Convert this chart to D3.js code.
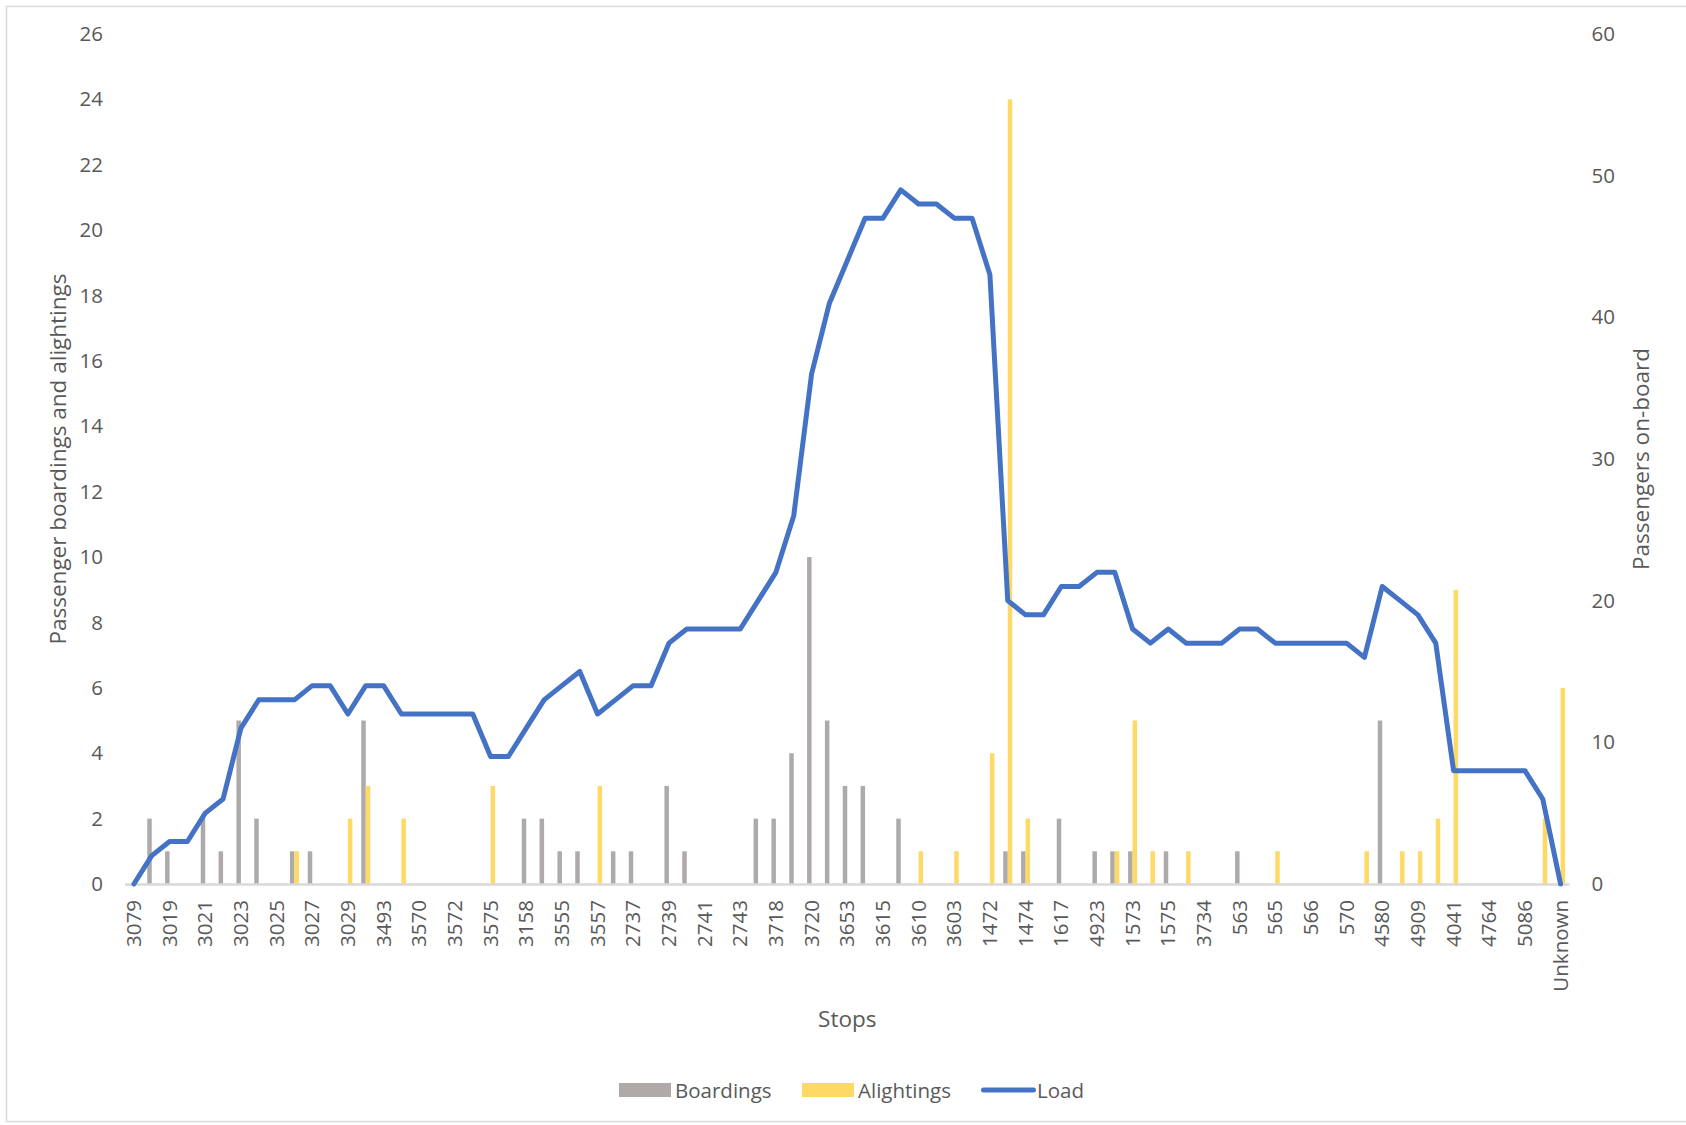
<!DOCTYPE html>
<html>
<head>
<meta charset="utf-8">
<script src="https://cdn.jsdelivr.net/npm/d3@7"></script>
<style>
  html, body { margin: 0; padding: 0; background: #ffffff; }
  svg { display: block; }
  text { font-family: "Open Sans", "Noto Sans", sans-serif; fill: #595959; }
</style>
</head>
<body>
<svg id="chart" width="1686" height="1125"></svg>
<script>
// Stop labels printed on the axis (one label for every second stop along the route)
const stopLabels = [
  "3079", "3019", "3021", "3023", "3025", "3027", "3029", "3493", "3570", "3572",
  "3575", "3158", "3555", "3557", "2737", "2739", "2741", "2743", "3718", "3720",
  "3653", "3615", "3610", "3603", "1472", "1474", "1617", "4923", "1573", "1575",
  "3734", "563", "565", "566", "570", "4580", "4909", "4041", "4764", "5086",
  "Unknown"
];

// Passengers boarding at each of the 81 stops
const boardings = [
  0, 2, 1, 0, 2, 1, 5, 2, 0, 1,
  1, 0, 0, 5, 0, 0, 0, 0, 0, 0,
  0, 0, 2, 2, 1, 1, 0, 1, 1, 0,
  3, 1, 0, 0, 0, 2, 2, 4, 10, 5,
  3, 3, 0, 2, 0, 0, 0, 0, 0, 1,
  1, 0, 2, 0, 1, 1, 1, 0, 1, 0,
  0, 0, 1, 0, 0, 0, 0, 0, 0, 0,
  5, 0, 0, 0, 0, 0, 0, 0, 0, 0,
  0
];

// Passengers alighting at each stop
const alightings = [
  0, 0, 0, 0, 0, 0, 0, 0, 0, 1,
  0, 0, 2, 3, 0, 2, 0, 0, 0, 0,
  3, 0, 0, 0, 0, 0, 3, 0, 0, 0,
  0, 0, 0, 0, 0, 0, 0, 0, 0, 0,
  0, 0, 0, 0, 1, 0, 1, 0, 4, 24,
  2, 0, 0, 0, 0, 1, 5, 1, 0, 1,
  0, 0, 0, 0, 1, 0, 0, 0, 0, 1,
  0, 1, 1, 2, 9, 0, 0, 0, 0, 2,
  6
];

// Passengers on board after each stop
const load = [
  0, 2, 3, 3, 5, 6, 11, 13, 13, 13,
  14, 14, 12, 14, 14, 12, 12, 12, 12, 12,
  9, 9, 11, 13, 14, 15, 12, 13, 14, 14,
  17, 18, 18, 18, 18, 20, 22, 26, 36, 41,
  44, 47, 47, 49, 48, 48, 47, 47, 43, 20,
  19, 19, 21, 21, 22, 22, 18, 17, 18, 17,
  17, 17, 18, 18, 17, 17, 17, 17, 17, 16,
  21, 20, 19, 17, 8, 8, 8, 8, 8, 6,
  0
];

const leftTicks = [0, 2, 4, 6, 8, 10, 12, 14, 16, 18, 20, 22, 24, 26];
const rightTicks = [0, 10, 20, 30, 40, 50, 60];

const seriesNames = ["Boardings", "Alightings"];
const colors = { Boardings: "#AEAAAA", Alightings: "#FFD966", Load: "#4472C4" };

const svg = d3.select("#chart");
const W = 1686, H = 1125;
const plot = { left: 125, right: 1569.5, top: 34, bottom: 884 };

// Chart frame
svg.append("rect")
  .attr("x", 6.5).attr("y", 6.5)
  .attr("width", W + 10).attr("height", 1115)
  .attr("fill", "#ffffff")
  .attr("stroke", "#D9D9D9").attr("stroke-width", 1.5);

const stopIndex = d3.range(boardings.length);

const x = d3.scaleBand()
  .domain(stopIndex)
  .range([plot.left, plot.right])
  .padding(0);

const xInner = d3.scaleBand()
  .domain(seriesNames)
  .range([-4.5, 4.5])
  .padding(0);

const yLeft = d3.scaleLinear().domain([0, 26]).range([plot.bottom, plot.top]);
const yRight = d3.scaleLinear().domain([0, 60]).range([plot.bottom, plot.top]);

const center = i => x(i) + x.bandwidth() / 2;

// Boarding and alighting columns
const barData = [];
stopIndex.forEach(i => {
  barData.push({ i, s: "Boardings", v: boardings[i] });
  barData.push({ i, s: "Alightings", v: alightings[i] });
});

svg.append("g")
  .selectAll("rect")
  .data(barData.filter(d => d.v > 0))
  .join("rect")
  .attr("x", d => center(d.i) + xInner(d.s))
  .attr("width", xInner.bandwidth())
  .attr("y", d => yLeft(d.v))
  .attr("height", d => yLeft(0) - yLeft(d.v))
  .attr("fill", d => colors[d.s]);

// Category axis line
svg.append("line")
  .attr("x1", plot.left).attr("x2", plot.right)
  .attr("y1", plot.bottom + 0.5).attr("y2", plot.bottom + 0.5)
  .attr("stroke", "#D9D9D9").attr("stroke-width", 2.5);

// Load line on the secondary axis
const line = d3.line()
  .x((d, i) => center(i))
  .y(d => yRight(d));

svg.append("path")
  .datum(load)
  .attr("d", line)
  .attr("fill", "none")
  .attr("stroke", colors.Load)
  .attr("stroke-width", 5)
  .attr("stroke-linejoin", "round")
  .attr("stroke-linecap", "round");

// Bottom axis: every second stop is labelled
const xAxis = d3.axisBottom(x)
  .tickValues(stopIndex.filter(i => i % 2 === 0))
  .tickFormat(i => stopLabels[i / 2])
  .tickSize(0);

const gx = svg.append("g")
  .attr("transform", `translate(0,${plot.bottom})`)
  .call(xAxis);
gx.select(".domain").remove();
gx.selectAll("text")
  .attr("transform", "rotate(-90)")
  .attr("x", -16)
  .attr("y", 0)
  .attr("dy", "0.35em")
  .attr("text-anchor", "end")
  .style("font-size", "20.5px")
  .style("fill", "#595959");

// Left axis
const gl = svg.append("g")
  .attr("transform", `translate(${plot.left},0)`)
  .call(d3.axisLeft(yLeft).tickValues(leftTicks).tickSize(0).tickPadding(22));
gl.select(".domain").remove();
gl.selectAll("text").style("font-size", "20.5px").style("fill", "#595959");

// Right axis
const gr = svg.append("g")
  .attr("transform", `translate(${plot.right},0)`)
  .call(d3.axisRight(yRight).tickValues(rightTicks).tickSize(0).tickPadding(22));
gr.select(".domain").remove();
gr.selectAll("text").style("font-size", "20.5px").style("fill", "#595959");

// Axis titles
svg.append("text")
  .attr("transform", `translate(57,${(plot.top + plot.bottom) / 2}) rotate(-90)`)
  .attr("text-anchor", "middle")
  .attr("dominant-baseline", "central")
  .style("font-size", "22.5px")
  .text("Passenger boardings and alightings");

svg.append("text")
  .attr("transform", `translate(1640,${(plot.top + plot.bottom) / 2}) rotate(-90)`)
  .attr("text-anchor", "middle")
  .attr("dominant-baseline", "central")
  .style("font-size", "22.5px")
  .text("Passengers on-board");

svg.append("text")
  .attr("x", (plot.left + plot.right) / 2)
  .attr("y", 1018)
  .attr("text-anchor", "middle")
  .attr("dominant-baseline", "central")
  .style("font-size", "22.5px")
  .text("Stops");

// Legend
const legendY = 1090;
const legendItems = [
  { name: "Boardings", type: "rect", x: 619 },
  { name: "Alightings", type: "rect", x: 802 },
  { name: "Load", type: "line", x: 981 }
];
const lg = svg.append("g");
legendItems.forEach(item => {
  if (item.type === "rect") {
    lg.append("rect")
      .attr("x", item.x).attr("y", legendY - 7)
      .attr("width", 52).attr("height", 14)
      .attr("fill", colors[item.name]);
  } else {
    lg.append("line")
      .attr("x1", item.x + 2.5).attr("x2", item.x + 52.5)
      .attr("y1", legendY).attr("y2", legendY)
      .attr("stroke", colors.Load).attr("stroke-width", 5)
      .attr("stroke-linecap", "round");
  }
  lg.append("text")
    .attr("x", item.x + 56)
    .attr("y", legendY)
    .attr("dominant-baseline", "central")
    .style("font-size", "20.5px")
    .text(item.name);
});
</script>
</body>
</html>
